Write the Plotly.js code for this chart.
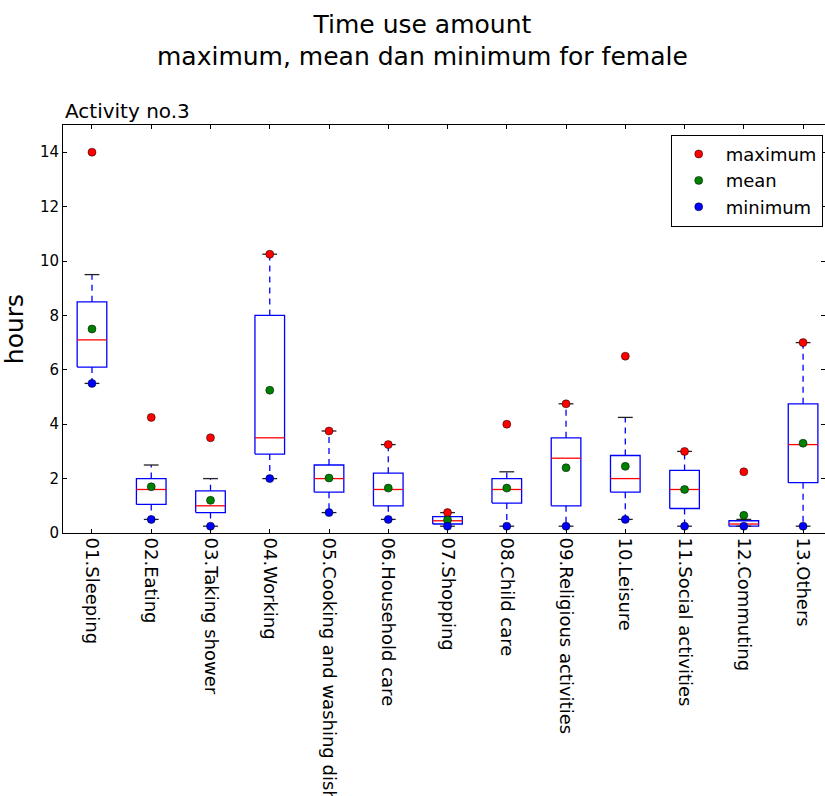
<!DOCTYPE html>
<html>
<head>
<meta charset="utf-8">
<script src="https://cdn.plot.ly/plotly-3.0.1.min.js"></script>
<style>html,body{margin:0;padding:0;background:#fff;}</style>
</head>
<body>
<div id="chart" style="width:825px;height:796px;"></div>
<script>
const categories = ["01.Sleeping","02.Eating","03.Taking shower","04.Working","05.Cooking and washing dishes","06.Household care","07.Shopping","08.Child care","09.Religious activities","10.Leisure","11.Social activities","12.Commuting","13.Others"];
const whisLow  = [5.5, 0.5, 0.25, 2.0, 0.75, 0.5, 0.25, 0.25, 0.25, 0.5, 0.25, 0.25, 0.25];
const q1       = [6.1, 1.05, 0.75, 2.9, 1.5, 1.0, 0.33, 1.1, 1.0, 1.5, 0.9, 0.25, 1.85];
const medians  = [7.1, 1.6, 1.0, 3.5, 2.0, 1.6, 0.45, 1.6, 2.75, 2.0, 1.6, 0.33, 3.25];
const q3       = [8.5, 2.0, 1.55, 8.0, 2.5, 2.2, 0.6, 2.0, 3.5, 2.85, 2.3, 0.45, 4.75];
const whisHigh = [9.5, 2.5, 2.0, 10.25, 3.75, 3.25, 0.75, 2.25, 4.75, 4.25, 3.0, 0.5, 7.0];
const maxima   = [14.0, 4.25, 3.5, 10.25, 3.75, 3.25, 0.75, 4.0, 4.75, 6.5, 3.0, 2.25, 7.0];
const means    = [7.5, 1.7, 1.2, 5.25, 2.02, 1.65, 0.48, 1.65, 2.4, 2.45, 1.6, 0.65, 3.3];
const minima   = [5.5, 0.5, 0.25, 2.0, 0.75, 0.5, 0.25, 0.25, 0.25, 0.5, 0.25, 0.25, 0.25];

const pos = categories.map((c, i) => i + 1);
const hw = 0.25, cw = 0.125;

const bx = [], by = [], mx = [], my = [], wx = [], wy = [], cx = [], cy = [];
pos.forEach((p, i) => {
  bx.push(p - hw, p + hw, p + hw, p - hw, p - hw, null);
  by.push(q1[i], q1[i], q3[i], q3[i], q1[i], null);
  mx.push(p - hw, p + hw, null);
  my.push(medians[i], medians[i], null);
  wx.push(p, p, null, p, p, null);
  wy.push(q3[i], whisHigh[i], null, q1[i], whisLow[i], null);
  cx.push(p - cw, p + cw, null, p - cw, p + cw, null);
  cy.push(whisHigh[i], whisHigh[i], null, whisLow[i], whisLow[i], null);
});

const F = "DejaVu Sans, Bitstream Vera Sans, sans-serif";
const traces = [
  {x: wx, y: wy, mode: "lines", line: {color: "#0000ff", width: 1.3, dash: "6px,5px"}, showlegend: false, hoverinfo: "skip"},
  {x: bx, y: by, mode: "lines", line: {color: "#0000ff", width: 1.3}, showlegend: false, hoverinfo: "skip"},
  {x: mx, y: my, mode: "lines", line: {color: "#ff0000", width: 1.3}, showlegend: false, hoverinfo: "skip"},
  {x: cx, y: cy, mode: "lines", line: {color: "#222222", width: 1.3}, showlegend: false, hoverinfo: "skip"},
  {x: pos, y: maxima, mode: "markers", name: "maximum", marker: {color: "#ff0000", size: 8, line: {color: "#000", width: 0.5}}},
  {x: pos, y: means, mode: "markers", name: "mean", marker: {color: "#008000", size: 8, line: {color: "#000", width: 0.5}}},
  {x: pos, y: minima, mode: "markers", name: "minimum", marker: {color: "#0000ff", size: 8, line: {color: "#000", width: 0.5}}}
];

const layout = {
  width: 825, height: 796,
  margin: {l: 63, r: 0, t: 125, b: 263},
  paper_bgcolor: "#ffffff", plot_bgcolor: "#ffffff",
  font: {family: F, color: "#000"},
  title: {text: "Time use amount<br>maximum, mean dan minimum for female", font: {family: F, size: 25, color: "#000"},
          x: 0.512, xanchor: "center", xref: "container", y: 0.959, yanchor: "middle", yref: "container"},
  showlegend: true,
  legend: {x: 0.997, y: 0.976, xanchor: "right", yanchor: "top", bgcolor: "#fff", bordercolor: "#000", borderwidth: 1,
           font: {family: F, size: 18, color: "#000"}, itemwidth: 44, tracegroupgap: 0},
  xaxis: {range: [0.511, 13.37], tickvals: pos, ticktext: categories, tickangle: 90,
          tickfont: {family: F, size: 18, color: "#000"}, ticks: "inside", ticklen: 4, tickcolor: "#000",
          showline: true, linecolor: "#000", linewidth: 1, mirror: "allticks", showgrid: false, zeroline: false, fixedrange: true},
  yaxis: {range: [0, 15], tickvals: [0, 2, 4, 6, 8, 10, 12, 14], tickfont: {family: F, size: 15, color: "#000"},
          ticks: "inside", ticklen: 4, tickcolor: "#000", showline: true, linecolor: "#000", linewidth: 1, mirror: "allticks",
          showgrid: false, zeroline: false,
          title: {text: "hours", font: {family: F, size: 25, color: "#000"}, standoff: 12}},
  annotations: [
    {text: "Activity no.3", xref: "paper", yref: "paper", x: 0, y: 1, xanchor: "left", yanchor: "bottom", yshift: 0,
     showarrow: false, font: {family: F, size: 20, color: "#000"}}
  ]
};

Plotly.newPlot("chart", traces, layout, {staticPlot: true, displayModeBar: false});
</script>
</body>
</html>
